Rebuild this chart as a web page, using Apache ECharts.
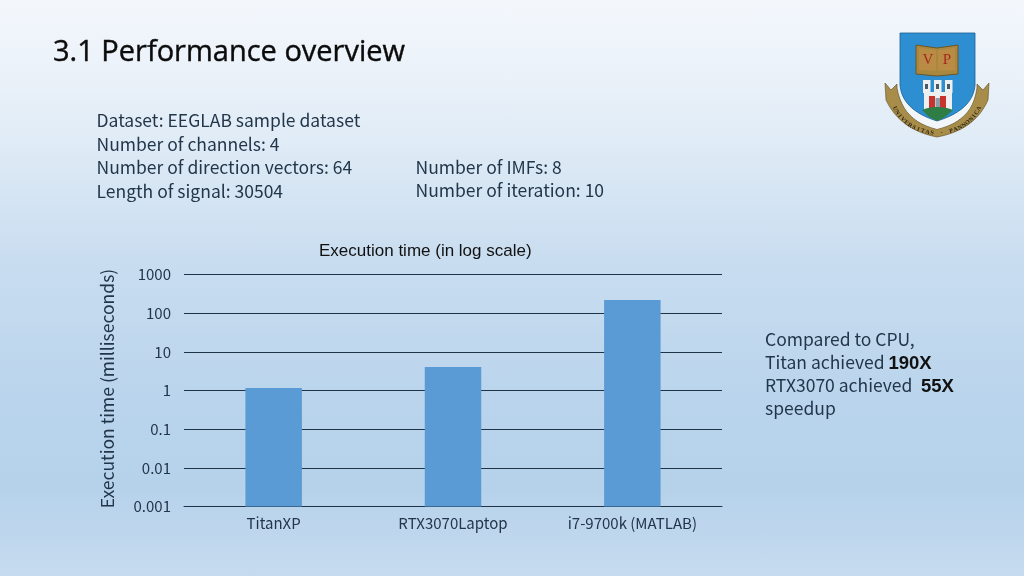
<!DOCTYPE html>
<html><head><meta charset="utf-8">
<style>html,body{margin:0;padding:0;width:1024px;height:576px;overflow:hidden;background:linear-gradient(180deg,#f3f7fc 0%,#edf3fa 10%,#dfebf6 25%,#c9ddf0 45%,#b9d4ec 70%,#b6d2eb 85%,#c6dbef 100%)}#c{width:1024px;height:576px}</style>
<script src="https://cdn.jsdelivr.net/npm/echarts@6/dist/echarts.min.js"></script>
</head><body><div id="c"></div>
<script>
const categories = ['TitanXP', 'RTX3070Laptop', 'i7-9700k (MATLAB)'];
const executionTimes = [1.16, 4.05, 219];
const chartTitle = 'Execution time (in log scale)';
const yAxisName = 'Execution time (milliseconds)';
const slideTitle = '3.1 Performance overview';
const infoLeft = ['Dataset: EEGLAB sample dataset', 'Number of channels: 4', 'Number of direction vectors: 64', 'Length of signal: 30504'];
const infoRight = ['Number of IMFs: 8', 'Number of iteration: 10'];
const tickLabels = {0.001:'0.001',0.01:'0.01',0.1:'0.1',1:'1',10:'10',100:'100',1000:'1000'};

const body = '"Noto Sans CJK SC","Noto Sans",sans-serif';
const ink = '#22364a';
function txt(x, y, text, size, extra) {
  return {type:'text', x, y, silent:true, style:Object.assign({text, fontSize:size, fontFamily:body, fill:ink, textVerticalAlign:'middle'}, extra||{})};
}
const gfx = [];
gfx.push(txt(53, 53, slideTitle, 29, {fontFamily:'"Open Sans",sans-serif', fill:'#0b0b0b', stroke:'#0b0b0b', lineWidth:0.4}));
const lefty = [120.5, 144, 167.5, 191];
infoLeft.forEach((t,i)=>gfx.push(txt(96.5, lefty[i], t, 17.5)));
infoRight.forEach((t,i)=>gfx.push(txt(415.5, [167.5,190.5][i], t, 17.5)));
gfx.push(txt(765, 339.5, 'Compared to CPU,', 17.5));
gfx.push(txt(765, 362.5, 'Titan achieved', 17.5));
gfx.push(txt(888.5, 363.5, '190X', 18.5, {fontFamily:'Liberation Sans', fontWeight:'bold', fill:'#111'}));
gfx.push(txt(765, 385.5, 'RTX3070 achieved', 17.5));
gfx.push(txt(921, 386.5, '55X', 18.5, {fontFamily:'Liberation Sans', fontWeight:'bold', fill:'#111'}));
gfx.push(txt(765, 408.5, 'speedup', 17.5));

// crest
const poly = (points, fill, stroke, lw) => ({type:'polygon', silent:true, shape:{points}, style:{fill, stroke:stroke||null, lineWidth:lw||0}});
const rect = (x,y,width,height,fill) => ({type:'rect', silent:true, shape:{x,y,width,height}, style:{fill}});
const quad = (a,c,b,n=12) => { const p=[]; for(let i=0;i<=n;i++){const t=i/n,u=1-t; p.push([u*u*a[0]+2*u*t*c[0]+t*t*b[0], u*u*a[1]+2*u*t*c[1]+t*t*b[1]]);} return p; };
// ribbon
gfx.push(poly([[885,83],[886,100]].concat(quad([886,100],[900,130],[937,137]), quad([937,137],[975,130],[988,100]),
  [[989,83],[983,90],[977,84]], quad([977,88],[972,122],[937,129]), quad([937,129],[903,122],[897,88]), [[897,84],[891,90]]), '#a88d4a', '#5d4c22', 0.6));
// white band below the shield
gfx.push(poly([[900,80],[975,80]].concat(quad([975,85],[977,118],[937,129]), quad([937,129],[898,118],[900,85])), '#f2f6f8'));
// shield
gfx.push(poly([[900,33],[975,33],[975,85]].concat(quad([975,85],[973,110],[937,121]), quad([937,121],[902,110],[900,85])), '#2d8fd2', '#1b5f93', 0.8));
// book
gfx.push(poly([[916,45],[937,48],[958,45],[958,74],[937,76],[916,74]], '#a8873f', '#6e5522', 1));
gfx.push(poly([[919,48],[936,50],[936,71],[919,70]], '#b98b45'));
gfx.push(poly([[938,50],[955,48],[955,70],[938,71]], '#b98b45'));
gfx.push(txt(928, 60, 'V', 15, {fontFamily:'Liberation Serif', fill:'#a52a1e', textAlign:'center'}));
gfx.push(txt(947, 60, 'P', 15, {fontFamily:'Liberation Serif', fill:'#a52a1e', textAlign:'center'}));
// castle
[923,934,945].forEach(x=>{ gfx.push(rect(x,80,7.5,13,'#eef0f0')); gfx.push(rect(x+2,84,3,5,'#4a5a66')); });
gfx.push(rect(924,92,28,19,'#eef0f0'));
gfx.push(rect(929,96,6,13,'#c8332e'));
gfx.push(rect(940,96,6,13,'#c8332e'));
gfx.push(rect(935.5,98,4.5,11,'#8aa0a8'));
gfx.push(poly(quad([922,110],[937,104],[953,110]).concat([[945,117],[937,121],[929,117]]), '#2e7d45'));
const motto = 'UNIVERSITAS · PANNONICA';
[...motto].forEach((ch,i)=>{
  const a = (156 - i*(132/(motto.length-1)))*Math.PI/180;
  const x = 937 + 46*Math.cos(a), y = 92 + 41*Math.sin(a);
  gfx.push({type:'text', silent:true, x, y, rotation:(Math.PI/2-a), style:{text:ch, fontSize:6, fontFamily:'Liberation Serif', fontWeight:'bold', fill:'#2a2410', textAlign:'center', textVerticalAlign:'middle'}});
});

const chart = echarts.init(document.getElementById('c'), null, {renderer:'canvas', width:1024, height:576});
chart.setOption({
  backgroundColor:'transparent',
  animation:false,
  title:{text:chartTitle, left:319, top:243, padding:0, textStyle:{fontFamily:'Liberation Sans', fontSize:17, fontWeight:'normal', color:'#111'}},
  grid:{left:184, right:302, top:274.5, bottom:69.5},
  xAxis:{type:'category', data:categories,
    axisLine:{show:true, lineStyle:{color:'#1f3347', width:1}}, axisTick:{show:false},
    axisLabel:{color:ink, fontSize:15, fontFamily:body, margin:9}},
  yAxis:{type:'log', logBase:10, min:0.001, max:1000, startValue:0.001,
    name:yAxisName, nameLocation:'middle', nameGap:68, nameTextStyle:{color:ink, fontSize:17.5, fontFamily:body, padding:[0,0,0,4]},
    axisLine:{show:false}, axisTick:{show:false},
    splitLine:{show:true, lineStyle:{color:'#1f3347', width:1}},
    minorSplitLine:{show:false},
    axisLabel:{color:ink, fontSize:15, fontFamily:body, margin:13, formatter:v=>tickLabels[v]||tickLabels[+(+v).toPrecision(3)]||String(v)}},
  series:[{type:'bar', data:executionTimes, barWidth:56.5, itemStyle:{color:'#5b9bd5'}, z:3}],
  graphic:{elements:gfx}
});
</script></body></html>
